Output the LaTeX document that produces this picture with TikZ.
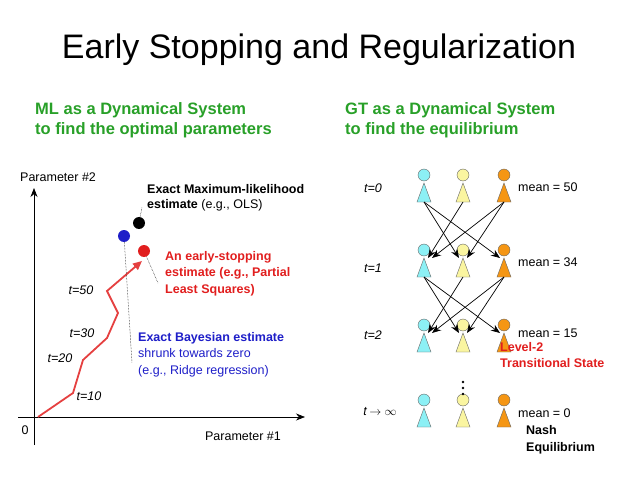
\documentclass[tikz,border=0pt]{standalone}
\usepackage{fontspec}
\setmainfont{Liberation Sans}
\usetikzlibrary{arrows.meta}
\definecolor{gr}{RGB}{40,160,40}
\definecolor{bl}{RGB}{30,30,200}
\definecolor{rd}{RGB}{225,30,30}
\definecolor{cy}{RGB}{140,240,245}
\definecolor{ye}{RGB}{250,245,160}
\definecolor{og}{RGB}{245,150,20}
\begin{document}
\begin{tikzpicture}[x=1pt,y=-1pt,
  lab/.style={inner sep=0pt,font=\fontsize{12.5}{15}\selectfont},
  tl/.style={lab,font=\fontsize{12.5}{15}\selectfont\itshape},
  hd/.style={circle,draw=gray!80!black,line width=0.4pt,minimum size=12pt,inner sep=0pt},
  bd/.style={draw=gray!80!black,line width=0.4pt},
  ar/.style={-{Stealth[length=9pt,width=7pt]},line width=0.7pt}]
\useasboundingbox (0,0) rectangle (638,479);
\node[inner sep=0pt,font=\fontsize{34}{38}\selectfont] (title) at (319,50) {Early Stopping and Regularization};
\node[lab,anchor=west,align=left,text=gr,font=\fontsize{16.5}{20}\selectfont\bfseries] (ml) at (35,120) {ML as a Dynamical System\\to find the optimal parameters};
\node[lab,anchor=west,align=left,text=gr,font=\fontsize{16.5}{20}\selectfont\bfseries] (gt) at (345,120) {GT as a Dynamical System\\to find the equilibrium};
% axes
\coordinate (yb) at (34,445); \coordinate (yt) at (34,188);
\coordinate (xl) at (18,417); \coordinate (xr) at (305,417);
\draw[-{Stealth[length=9pt,width=7pt]},line width=0.7pt] (yb) -- (yt);
\draw[-{Stealth[length=9pt,width=7pt]},line width=0.7pt] (xl) -- (xr);
\node[lab,anchor=west] (p2) at (20,177) {Parameter \#2};
\node[lab] (p1) at (243,436) {Parameter \#1};
\node[lab] (zero) at (25,430) {0};
% path
\coordinate (o) at (38,417);
\draw[rd!85,line width=1.8pt,-{Triangle[length=9pt,width=8pt]}] (o) -- (73,393) -- (83,360) -- (107,338) -- (118,313) -- (107,291) -- (142,261);
\node[tl] (t10) at (89,396) {t=10};
\node[tl] (t20) at (60,358) {t=20};
\node[tl] (t30) at (82,333) {t=30};
\node[tl] (t50) at (81,290) {t=50};
% dots
\node[circle,fill=bl,minimum size=12pt,inner sep=0pt] (bd1) at (124,236) {};
\node[circle,fill=black,minimum size=12pt,inner sep=0pt] (kd) at (139,223) {};
\node[circle,fill=rd,minimum size=12pt,inner sep=0pt] (rdt) at (144,251) {};
\coordinate (bde) at (132,363); \coordinate (kde) at (142,207); \coordinate (rde) at (158,283);
\draw[densely dotted,line width=0.5pt] (bd1) -- (bde);
\draw[densely dotted,line width=0.5pt] (kd) -- (kde);
\draw[densely dotted,line width=0.5pt] (rdt) -- (rde);
\node[lab,anchor=north west,align=left] (mle) at (147,184) {\textbf{Exact Maximum-likelihood}\\\textbf{estimate} (e.g., OLS)};
\node[lab,anchor=north west,align=left,text=rd,font=\fontsize{12.5}{16.5}\selectfont\bfseries] (es) at (165,251) {An early-stopping\\estimate (e.g., Partial\\Least Squares)};
\node[lab,anchor=north west,align=left,text=bl,font=\fontsize{12.5}{16.5}\selectfont] (be) at (138,332) {\textbf{Exact Bayesian estimate}\\shrunk towards zero\\(e.g., Ridge regression)};
% people
\foreach \r/\y in {a/175,b/250,c/325,d/400}{
  \foreach \c/\x/\col in {1/424/cy,2/463/ye,3/504/og}{
    \draw[bd,fill=\col] (\x,\y+8) -- (\x-7,\y+27) -- (\x+7,\y+27) -- cycle;
    \node[hd,fill=\col] (\r\c) at (\x,\y) {};
    \coordinate (\r\c b) at (\x,\y+27);
  }}
\foreach \s/\t in {a/b,b/c}{
  \draw[ar] (\s1b) -- ([xshift=-4pt,yshift=-8pt]\t2.center);
  \draw[ar] (\s1b) -- ([xshift=-4pt,yshift=-8pt]\t3.center);
  \draw[ar] (\s2b) -- ([xshift=4pt,yshift=-8pt]\t1.center);
  \draw[ar] (\s3b) -- ([xshift=8pt,yshift=-8pt]\t1.center);
  \draw[ar] (\s3b) -- ([xshift=4pt,yshift=-8pt]\t2.center);
}
\foreach \k/\yy in {1/382,2/388,3/394} \fill (463,\yy) circle (1.3pt) coordinate (vd\k);
\node[tl] (r0) at (373,188) {t=0};
\node[tl] (r1) at (373,268) {t=1};
\node[tl] (r2) at (373,335) {t=2};
\node[lab] (r3) at (380,412) {\textit{t}\,$\rightarrow\infty$};
\node[lab,anchor=west] (m0) at (518,187) {mean = 50};
\node[lab,anchor=west] (m1) at (518,262) {mean = 34};
\node[lab,anchor=west] (m2) at (518,333) {mean = 15};
\node[lab,anchor=west] (m3) at (518,413) {mean = 0};
\node[lab,anchor=north west,align=left,text=rd,font=\fontsize{12.5}{16}\selectfont\bfseries] (lv) at (500,342) {Level-2\\Transitional State};
\node[lab,anchor=north west,align=left,font=\fontsize{12.5}{17}\selectfont\bfseries] (ne) at (526,425) {Nash\\Equilibrium};
\end{tikzpicture}
\end{document}
